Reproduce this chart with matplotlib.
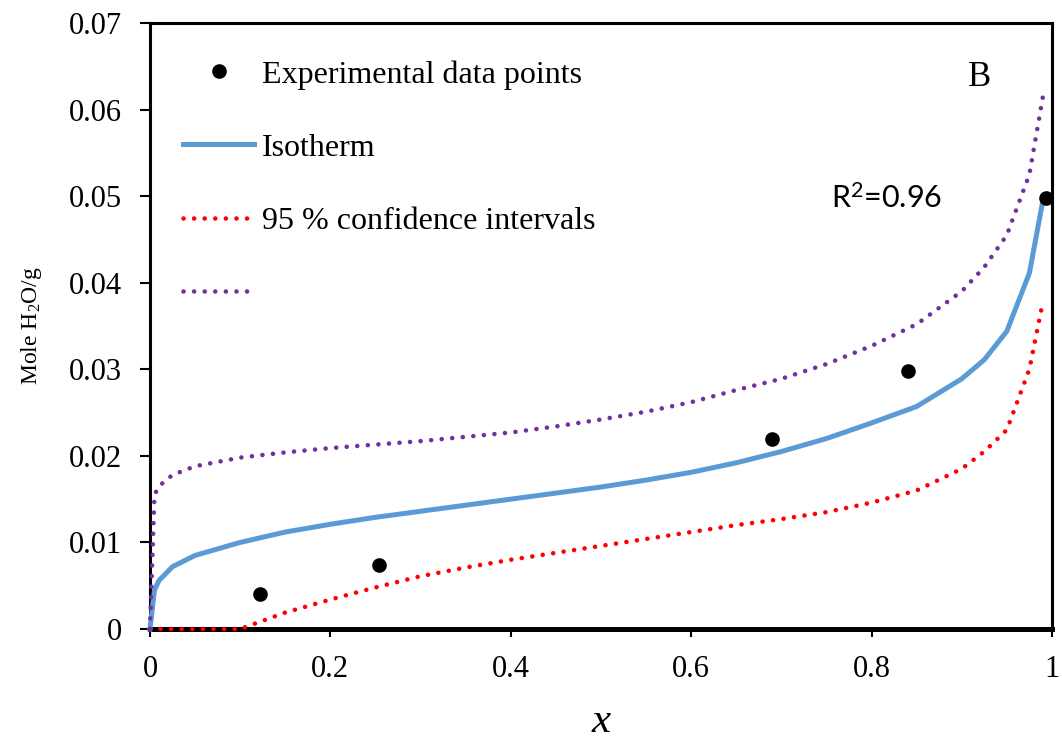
import matplotlib.pyplot as plt
from matplotlib.lines import Line2D

# ---------------------------
#  Data
# ---------------------------
x_exp = [0.122, 0.254, 0.690, 0.841, 0.993]
y_exp = [0.0041, 0.0074, 0.0220, 0.0298, 0.0498]

x_fit = [0, 0.005, 0.01, 0.025, 0.05, 0.1, 0.15, 0.2, 0.25, 0.3, 0.35, 0.4, 0.45,
         0.5, 0.55, 0.6, 0.65, 0.7, 0.75, 0.8, 0.85, 0.9, 0.925, 0.95, 0.975, 0.99]
isotherm = [0, 0.0045, 0.0056, 0.0072, 0.0085, 0.0100, 0.0112, 0.0121, 0.0129, 0.0136,
            0.0143, 0.0150, 0.0157, 0.0164, 0.0172, 0.0181, 0.0192, 0.0205, 0.0220,
            0.0238, 0.0257, 0.0289, 0.0311, 0.0344, 0.0411, 0.0495]
upper_ci = [0, 0.0155, 0.0165, 0.0178, 0.0188, 0.0198, 0.0204, 0.0209, 0.0213, 0.0217,
            0.0222, 0.0227, 0.0234, 0.0242, 0.0251, 0.0262, 0.0276, 0.0289, 0.0306,
            0.0327, 0.0352, 0.0390, 0.0418, 0.0455, 0.0525, 0.0615]
lower_ci = [0, 0, 0, 0, 0, 0, 0.0019, 0.0034, 0.0048, 0.0061, 0.0071, 0.0080, 0.0088,
            0.0096, 0.0104, 0.0112, 0.0120, 0.0127, 0.0135, 0.0146, 0.0160, 0.0185,
            0.0205, 0.0230, 0.0300, 0.0378]

x_ticks = [0, 0.2, 0.4, 0.6, 0.8, 1]
x_ticklabels = ["0", "0.2", "0.4", "0.6", "0.8", "1"]
y_ticks = [0, 0.01, 0.02, 0.03, 0.04, 0.05, 0.06, 0.07]
y_ticklabels = ["0", "0.01", "0.02", "0.03", "0.04", "0.05", "0.06", "0.07"]

serif = ["Liberation Serif", "DejaVu Serif"]
plt.rcParams['font.family'] = serif
plt.rcParams['mathtext.fontset'] = 'custom'
plt.rcParams['mathtext.rm'] = 'Liberation Serif'
plt.rcParams['mathtext.it'] = 'Liberation Serif:italic'

blue = "#5B9BD5"
red = "#FF0000"
purple = "#7030A0"
dotted = (0, (0.01, 2.3))

fig = plt.figure(figsize=(10.62, 7.40), dpi=100)
ax = fig.add_axes([0.1412, 0.1500, 0.8493, 0.8189])

ax.plot(x_fit, isotherm, color=blue, lw=3.6, zorder=3, clip_on=False)
ax.plot(x_fit, lower_ci, color=red, lw=3.3, ls=dotted, dash_capstyle='round',
        zorder=4, clip_on=False)
ax.plot(x_fit, upper_ci, color=purple, lw=3.3, ls=dotted, dash_capstyle='round',
        zorder=4, clip_on=False)
ax.plot(x_exp, y_exp, 'o', color='black', ms=9.5, zorder=5, clip_on=False)

ax.set_xlim(0, 1)
ax.set_ylim(0, 0.07)
ax.set_xticks(x_ticks)
ax.set_xticklabels(x_ticklabels)
ax.set_yticks(y_ticks)
ax.set_yticklabels(y_ticklabels)
ax.tick_params(axis='both', direction='out', width=1.5, labelsize=22, color='black')
ax.tick_params(axis='x', length=6, pad=13)
ax.tick_params(axis='y', length=7, pad=13)

for side in ['left', 'right', 'top']:
    ax.spines[side].set_linewidth(2.2)
ax.spines['bottom'].set_linewidth(3.6)

ax.set_xlabel("x", fontsize=31, fontstyle='italic', labelpad=13)
ax.set_ylabel("Mole H$_2$O/g", fontsize=17, labelpad=18)

# legend: last entry has no text
handles = [
    Line2D([], [], ls='none', marker='o', color='black', ms=9.5),
    Line2D([], [], color=blue, lw=3.6),
    Line2D([], [], color=red, lw=3.3, ls=dotted, dash_capstyle='round'),
    Line2D([], [], color=purple, lw=3.3, ls=dotted, dash_capstyle='round'),
]
labels = ["Experimental data points", "Isotherm", "95 % confidence intervals", ""]
ax.legend(handles, labels, loc='upper left', bbox_to_anchor=(0.023, 0.96),
          frameon=False, fontsize=23, handlelength=2.2, handletextpad=0.25,
          labelspacing=1.37, borderaxespad=0)

ax.text(0.755, 0.0498, r"R$^{\mathdefault{2}}$=0.96", fontsize=22,
        family=["Lato", "DejaVu Sans"], va='center', ha='left')
ax.text(0.9066, 0.0637, "B", fontsize=25, va='center', ha='left')

plt.savefig("out.png", dpi=100)
plt.close()
